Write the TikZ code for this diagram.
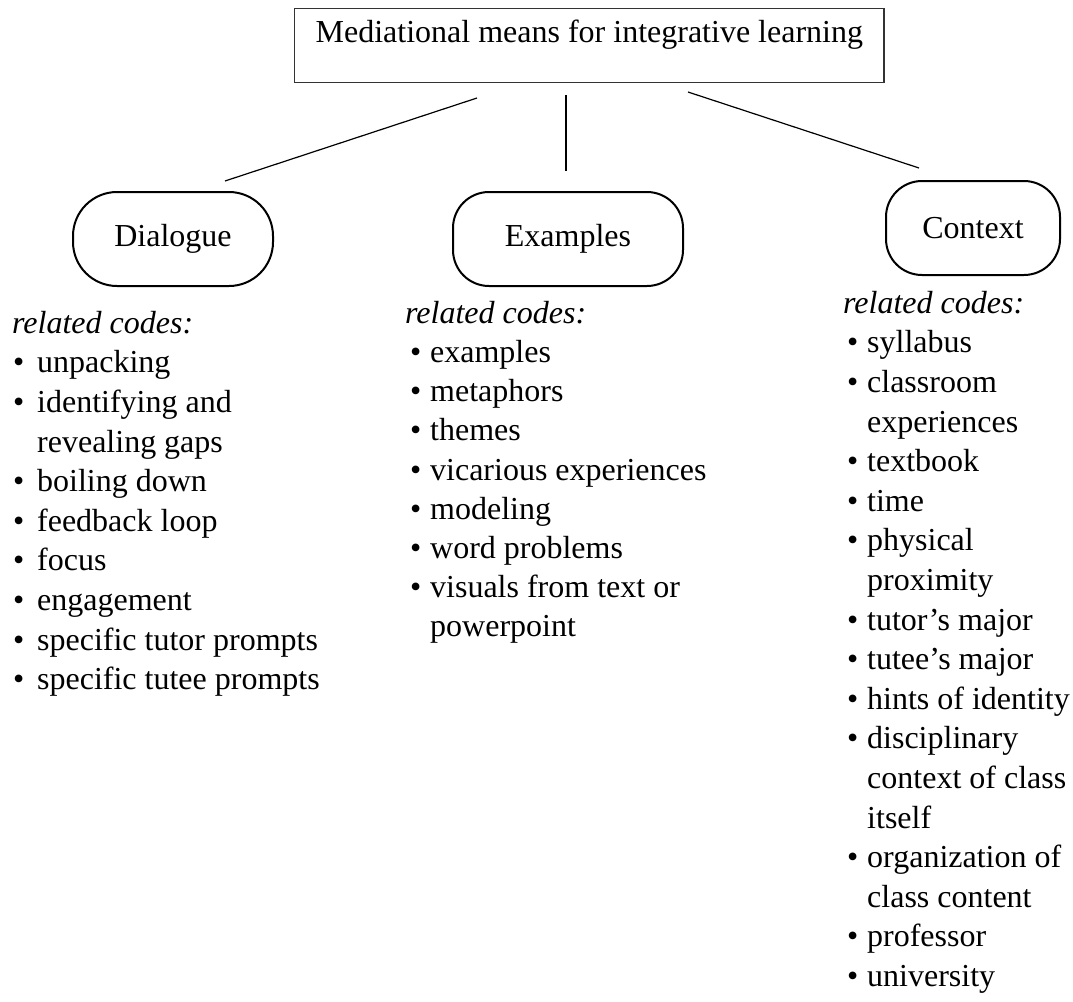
\documentclass[tikz,border=0pt]{standalone}
\usepackage{fontspec}
\setmainfont{Liberation Serif}
% bullet item: lead-in, bullet width, text
\newcommand\bitem[3]{\hspace*{#1}\makebox[#2][l]{\textbullet}#3}
% continuation line of a wrapped item
\newcommand\bcont[3]{\hspace*{#1}\hspace*{#2}#3}
\begin{document}
\begin{tikzpicture}[x=1pt,y=-1pt,
  txt/.style={font=\fontsize{32}{39.6}\selectfont},
  titlebox/.style={draw=black!80, line width=1.3pt, txt, anchor=north west,
    inner xsep=21pt, inner ysep=10pt, text height=24pt, text depth=30pt,
    minimum width=586pt},
  topic/.style={draw, line width=2pt, minimum height=94pt, txt, inner sep=0pt},
  codes/.style={txt, align=left, anchor=north west, inner sep=0pt},
  link/.style={line width=1.2pt}]
\useasboundingbox (0,0) rectangle (1073,1001);

% heading
\node[titlebox] (title) at (294,8) {Mediational means for integrative learning};

% the three means
\node[topic, rounded corners=44pt, minimum width=200pt] (dialogue) at (173,239) {Dialogue};
\node[topic, rounded corners=36pt, minimum width=230pt] (examples) at (568,239) {Examples};
\node[topic, rounded corners=36pt, minimum width=174pt] (context) at (973,228) {Context};

% branch lines
\coordinate (ls) at (477,98);  \coordinate (le) at (225,181);
\coordinate (ms) at (566,95);  \coordinate (me) at (566,171);
\coordinate (rs) at (688,92);  \coordinate (re) at (919,168);
\draw[link] (ls) -- (le);
\draw[link] (ms) -- (me);
\draw[link] (rs) -- (re);

% related codes
\node[codes] (dcodes) at (12,309) {\rule{0pt}{24pt}\textit{related codes:}\\
\bitem{1pt}{24pt}{unpacking}\\
\bitem{1pt}{24pt}{identifying and}\\
\bcont{1pt}{24pt}{revealing gaps}\\
\bitem{1pt}{24pt}{boiling down}\\
\bitem{1pt}{24pt}{feedback loop}\\
\bitem{1pt}{24pt}{focus}\\
\bitem{1pt}{24pt}{engagement}\\
\bitem{1pt}{24pt}{specific tutor prompts}\\
\bitem{1pt}{24pt}{specific tutee prompts}};

\node[codes, font=\fontsize{32}{39.2}\selectfont] (ecodes) at (405,299) {\rule{0pt}{24pt}\textit{related codes:}\\
\bitem{5pt}{20pt}{examples}\\
\bitem{5pt}{20pt}{metaphors}\\
\bitem{5pt}{20pt}{themes}\\
\bitem{5pt}{20pt}{vicarious experiences}\\
\bitem{5pt}{20pt}{modeling}\\
\bitem{5pt}{20pt}{word problems}\\
\bitem{5pt}{20pt}{visuals from text or}\\
\bcont{5pt}{20pt}{powerpoint}};

\node[codes] (ccodes) at (843,289) {\rule{0pt}{24pt}\textit{related codes:}\\
\bitem{4pt}{20pt}{syllabus}\\
\bitem{4pt}{20pt}{classroom}\\
\bcont{4pt}{20pt}{experiences}\\
\bitem{4pt}{20pt}{textbook}\\
\bitem{4pt}{20pt}{time}\\
\bitem{4pt}{20pt}{physical}\\
\bcont{4pt}{20pt}{proximity}\\
\bitem{4pt}{20pt}{tutor’s major}\\
\bitem{4pt}{20pt}{tutee’s major}\\
\bitem{4pt}{20pt}{hints of identity}\\
\bitem{4pt}{20pt}{disciplinary}\\
\bcont{4pt}{20pt}{context of class}\\
\bcont{4pt}{20pt}{itself}\\
\bitem{4pt}{20pt}{organization of}\\
\bcont{4pt}{20pt}{class content}\\
\bitem{4pt}{20pt}{professor}\\
\bitem{4pt}{20pt}{university}};
\end{tikzpicture}
\end{document}
